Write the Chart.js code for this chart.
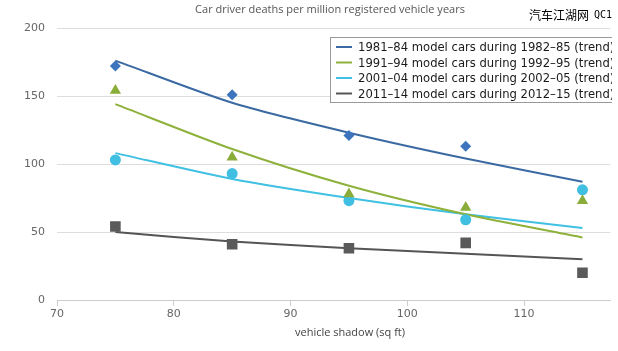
<!DOCTYPE html>
<html>
<head>
<meta charset="utf-8">
<script src="https://cdn.jsdelivr.net/npm/chart.js@4.4.1/dist/chart.umd.min.js"></script>
<style>
  html, body { margin: 0; padding: 0; background: #fff; }
  #wrap { width: 618px; height: 351px; position: relative; }
</style>
</head>
<body>
<div id="wrap"><canvas id="chart" width="618" height="351"></canvas></div>
<script>
// vehicle shadow (sq ft)
var shadow = [75, 85, 95, 105, 115];

var labels = [
  '1981\u201384 model cars during 1982\u201385 (trend)',
  '1991\u201394 model cars during 1992\u201395 (trend)',
  '2001\u201304 model cars during 2002\u201305 (trend)',
  '2011\u201314 model cars during 2012\u201315 (trend)'
];

// observed deaths
var obs1981 = [172, 151, 121, 113, null];
var obs1991 = [154, 105, 78, 68, 73];
var obs2001 = [103, 93, 73, 59, 81];
var obs2011 = [54, 41, 38, 42, 20];

// trend lines
var trend1981 = [176, 145, 123, 104, 87];
var trend1991 = [144, 111, 84, 63, 46];
var trend2001 = [108, 89, 75, 63, 53];
var trend2011 = [50, 43, 38, 34, 30];

var lineColors = ['#3b6aa3', '#8db13b', '#40c0e2', '#555555'];
var dotColors = ['#3c74bd', '#8aad3a', '#41bfe3', '#5a5a5a'];

function pts(arr) {
  var out = [];
  for (var i = 0; i < shadow.length; i++) {
    if (arr[i] !== null) out.push({x: shadow[i], y: arr[i]});
  }
  return out;
}

var trends = [trend1981, trend1991, trend2001, trend2011];
var observed = [obs1981, obs1991, obs2001, obs2011];
var styles = ['rectRot', 'triangle', 'circle', 'rect'];
var radii = [5.5, 6.5, 5.5, 7.5];

var datasets = [];
for (var i = 0; i < 4; i++) {
  datasets.push({
    label: labels[i],
    data: pts(trends[i]),
    showLine: true,
    borderColor: lineColors[i],
    borderWidth: 2,
    pointRadius: 0,
    tension: 0.25,
    isTrend: true,
    order: 2
  });
}
for (var j = 0; j < 4; j++) {
  datasets.push({
    label: labels[j].replace(' (trend)', ''),
    data: pts(observed[j]),
    pointStyle: styles[j],
    pointRadius: radii[j],
    backgroundColor: dotColors[j],
    borderColor: dotColors[j],
    borderWidth: 0,
    order: 1
  });
}

var font = '"DejaVu Sans", sans-serif';

var extras = {
  id: 'extras',
  afterDraw: function (chart) {
    var ctx = chart.ctx;
    ctx.save();
    // title
    ctx.fillStyle = '#555';
    ctx.font = '11px "Open Sans", sans-serif';
    ctx.textAlign = 'center';
    ctx.textBaseline = 'middle';
    ctx.fillText('Car driver deaths per million registered vehicle years', 330, 10);
    // watermark
    ctx.fillStyle = '#000';
    ctx.textAlign = 'left';
    ctx.font = '12px "Noto Sans CJK SC", sans-serif';
    ctx.fillText('汽车江湖网', 529, 15);
    ctx.font = '10px "DejaVu Sans Mono", monospace';
    ctx.fillText('QC1', 594, 15);
    // axis title
    ctx.fillStyle = '#444';
    ctx.font = '11px "Open Sans", sans-serif';
    ctx.textAlign = 'center';
    ctx.fillText('vehicle shadow (sq ft)', 350, 333);
    // legend, cut at the right edge like the source image
    ctx.beginPath();
    ctx.rect(0, 0, 612, 351);
    ctx.clip();
    var lx = 330, ly = 37, lw = 300, lh = 65;
    ctx.fillStyle = '#fff';
    ctx.fillRect(lx, ly, lw, lh);
    ctx.strokeStyle = '#999';
    ctx.lineWidth = 1;
    ctx.strokeRect(lx + 0.5, ly + 0.5, lw, lh);
    ctx.font = '11.6px ' + font;
    ctx.textAlign = 'left';
    chart.data.datasets.forEach(function (ds, k) {
      if (!ds.isTrend) return;
      var y = ly + 10 + k * 15.5;
      ctx.strokeStyle = ds.borderColor;
      ctx.lineWidth = 2;
      ctx.beginPath();
      ctx.moveTo(lx + 6, y);
      ctx.lineTo(lx + 22, y);
      ctx.stroke();
      ctx.fillStyle = '#1a1a1a';
      ctx.fillText(ds.label, lx + 28, y + 1);
    });
    ctx.restore();
  }
};

new Chart(document.getElementById('chart'), {
  type: 'scatter',
  data: { datasets: datasets },
  options: {
    responsive: false,
    animation: false,
    layout: { padding: { top: 28, right: 6, left: 0, bottom: 0 } },
    plugins: {
      legend: { display: false },
      title: { display: false },
      tooltip: { enabled: false }
    },
    scales: {
      x: {
        type: 'linear',
        min: 70,
        max: 117.4,
        ticks: { stepSize: 10, includeBounds: false, color: '#666', font: { family: font, size: 11 }, padding: 2 },
        grid: { drawOnChartArea: false, drawTicks: true, tickLength: 6, color: '#ccc' },
        border: { display: true, color: '#ccc' },
        afterFit: function (s) { s.height = 51; }
      },
      y: {
        min: 0,
        max: 200,
        ticks: { stepSize: 50, color: '#666', font: { family: font, size: 11 }, padding: 12 },
        grid: { color: '#ddd', drawTicks: false },
        border: { display: false },
        afterFit: function (s) { s.width = 57; }
      }
    }
  },
  plugins: [extras]
});
</script>
</body>
</html>
